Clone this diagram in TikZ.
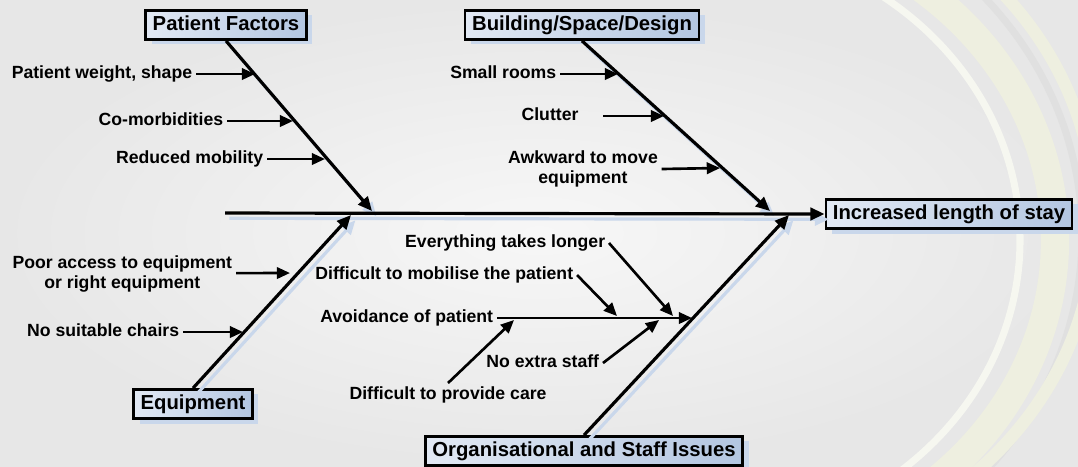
\documentclass[tikz,border=0pt]{standalone}
\usepackage{fontspec}
\setmainfont{Liberation Sans}
\usetikzlibrary{arrows.meta,shadows}
\definecolor{boxlight}{HTML}{E2E9F4}
\definecolor{boxdark}{HTML}{B3C6E1}
\definecolor{shadowblue}{HTML}{C9D7EB}
\definecolor{bgmid}{HTML}{F7F7F7}
\definecolor{bgedge}{HTML}{E7E7E7}
\definecolor{swbeige}{HTML}{EEEFE0}
\definecolor{swwhite}{HTML}{F6F7F0}
\definecolor{swgray}{HTML}{E0E0E0}
\tikzset{
  cat/.style={draw=black, line width=1.5pt, left color=boxlight, right color=boxdark,
    font=\bfseries\fontsize{11.5}{13}\selectfont, inner xsep=4pt, inner ysep=0pt,
    minimum height=16.5pt, text height=8.4pt, text depth=2.3pt,
    drop shadow={shadow xshift=3.4pt, shadow yshift=-2.8pt, fill=shadowblue, opacity=1}},
  cause/.style={font=\bfseries\fontsize{10}{11}\selectfont, inner sep=2pt,
    text height=7.3pt, text depth=2pt},
  cause2/.style={font=\bfseries\fontsize{10}{11}\selectfont, inner sep=2pt, align=center},
  bone/.style={line width=1.8pt, -{Triangle[length=8pt,width=7pt]}},
  boneshadow/.style={draw=shadowblue, line width=1.8pt, -{Triangle[length=8pt,width=7pt]},
    transform canvas={shift={(2.5pt,-3pt)}}},
  sub/.style={line width=1.5pt, -{Triangle[length=7.5pt,width=6.5pt]}}
}
\begin{document}
\begin{tikzpicture}[x=0.567pt,y=-0.567pt]
\useasboundingbox (0,0) rectangle (1078,466);
% background
\shade[inner color=bgmid, outer color=bgedge] (0,0) rectangle (1078,466);
\begin{scope}
  \clip (860,0) rectangle (1078,466);
  \draw[swgray, line width=4pt] (690,235) ellipse [x radius=392, y radius=360];
  \draw[swbeige, line width=16pt] (700,240) ellipse [x radius=355, y radius=322];
  \draw[swwhite, line width=4pt] (690,240) ellipse [x radius=330, y radius=300];
  \draw[swbeige, line width=7pt] (720,220) ellipse [x radius=375, y radius=345];
\end{scope}

% boxes
\node[cat] (pf)   at (226,25)  {Patient Factors};
\node[cat] (bsd)  at (582,25)  {Building/Space/Design};
\node[cat] (eq)   at (193,404) {Equipment};
\node[cat] (org)  at (584,451) {Organisational and Staff Issues};
\node[cat] (head) at (949,214) {Increased length of stay};

% coordinates
\coordinate (spineStart) at (225,213);
\coordinate (pfTip)  at (372,211);
\coordinate (bsdTip) at (770,211);
\coordinate (eqTip)  at (351,215);
\coordinate (orgTip) at (789,215);

% shadows of spine and bones
\draw[boneshadow] (spineStart) -- (head.west);
\draw[boneshadow] (pf.south) -- (pfTip);
\draw[boneshadow] (bsd.south) -- (bsdTip);
\draw[boneshadow] (eq.north) -- (eqTip);
\draw[boneshadow] (org.north) -- (orgTip);

% spine and bones
\draw[bone] (spineStart) -- (head.west);
\draw[bone] (pf.south) -- (pfTip);
\draw[bone] (bsd.south) -- (bsdTip);
\draw[bone] (eq.north) -- (eqTip);
\draw[bone] (org.north) -- (orgTip);

% patient factors causes
\node[cause, anchor=east] (l1) at (196,74) {Patient weight, shape};
\node[cause, anchor=east] (l2) at (227,121) {Co-morbidities};
\node[cause, anchor=east] (l3) at (267,159) {Reduced mobility};
\coordinate (t1) at (255,74);
\coordinate (t2) at (293,121);
\coordinate (t3) at (325,159);
\draw[sub] (l1.east) -- (t1);
\draw[sub] (l2.east) -- (t2);
\draw[sub] (l3.east) -- (t3);

% building causes
\node[cause, anchor=east] (b1) at (560,74) {Small rooms};
\node[cause] (b2) at (550,116) {Clutter};
\node[cause2] (b3) at (583,169) {Awkward to move\\equipment};
\coordinate (bt1) at (618,74);
\coordinate (bt2) at (664,116);
\coordinate (bt3) at (720,168);
\draw[sub] (b1.east) -- (bt1);
\draw[sub] ([xshift=12pt]b2.east) -- (bt2);
\draw[sub] (b3.east) -- (bt3);

% equipment causes
\node[cause2, anchor=east] (e1) at (236,274) {Poor access to equipment\\or right equipment};
\node[cause, anchor=east] (e2) at (183,332) {No suitable chairs};
\coordinate (et1) at (290,273);
\coordinate (et2) at (243,332);
\draw[sub] ([yshift=0.5pt]e1.east) -- (et1);
\draw[sub] (e2.east) -- (et2);

% organisational causes
\node[cause, anchor=east] (o1) at (609,243) {Everything takes longer};
\node[cause, anchor=east] (o2) at (577,275) {Difficult to mobilise the patient};
\node[cause, anchor=east] (o3) at (497,318) {Avoidance of patient};
\node[cause, anchor=east] (o4) at (603,363) {No extra staff};
\node[cause, anchor=north] (o5) at (448,383) {Difficult to provide care};
\coordinate (ot1) at (673,316);
\coordinate (ot2) at (617,316);
\coordinate (ot3) at (692,318);
\coordinate (ot4) at (659,320);
\coordinate (ot5) at (514,320);
\draw[sub] (o3.east) -- (ot3);
\draw[sub] (o1.east) -- (ot1);
\draw[sub] (o2.east) -- (ot2);
\draw[sub] (o4.east) -- (ot4);
\draw[sub] (o5.north) -- (ot5);
\end{tikzpicture}
\end{document}
